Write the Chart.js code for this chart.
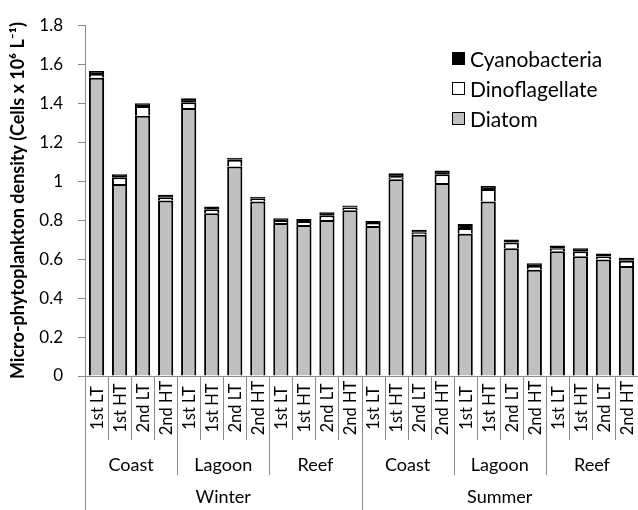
<!DOCTYPE html>
<html>
<head>
<meta charset="utf-8">
<script src="https://cdn.jsdelivr.net/npm/chart.js@4.4.0/dist/chart.umd.min.js"></script>
<style>
  html, body { margin: 0; padding: 0; background: #fff; }
  #wrap { width: 638px; height: 510px; }
</style>
</head>
<body>
<div id="wrap"><canvas id="c" width="638" height="510"></canvas></div>
<script>
// Sampling occasions, sites and seasons (x-axis hierarchy)
const tides = ['1st LT', '1st HT', '2nd LT', '2nd HT'];
const sites = ['Coast', 'Lagoon', 'Reef'];
const seasons = ['Winter', 'Summer'];

// Densities, cells x 10^6 per litre, in the order season > site > tide
const diatom = [1.53, 0.985, 1.335, 0.90, 1.375, 0.835, 1.075, 0.895, 0.785, 0.775, 0.80, 0.85,
                0.77, 1.01, 0.725, 0.99, 0.73, 0.895, 0.655, 0.545, 0.64, 0.615, 0.598, 0.565];
const dinoflagellate = [0.02, 0.035, 0.05, 0.015, 0.03, 0.02, 0.035, 0.015, 0.01, 0.02, 0.025, 0.015,
                        0.015, 0.01, 0.01, 0.045, 0.03, 0.065, 0.03, 0.02, 0.015, 0.025, 0.015, 0.027];
const cyanobacteria = [0.015, 0.015, 0.015, 0.015, 0.02, 0.015, 0.01, 0.01, 0.015, 0.01, 0.015, 0.01,
                       0.01, 0.02, 0.015, 0.02, 0.02, 0.015, 0.015, 0.013, 0.015, 0.015, 0.015, 0.015];

const yTicks = [0, 0.2, 0.4, 0.6, 0.8, 1, 1.2, 1.4, 1.6, 1.8];

const labels = [];
seasons.forEach(se => sites.forEach(si => tides.forEach(t => labels.push([t, si, se]))));

const FONT = "Lato, 'Open Sans', 'DejaVu Sans', sans-serif";
const AXIS_GREY = '#8a8a8a';

// Hierarchical category labels with divider lines under the x axis
const axisGroups = {
  id: 'axisGroups',
  afterDraw(chart) {
    const { ctx, chartArea, scales: { x } } = chart;
    const labs = chart.data.labels;
    const n = labs.length;
    const half = (x.getPixelForValue(1) - x.getPixelForValue(0)) / 2;
    const y0 = chartArea.bottom;
    const H = chart.height;
    ctx.save();
    ctx.strokeStyle = AXIS_GREY;
    ctx.lineWidth = 1;
    for (let i = 0; i <= n; i++) {
      const bx = Math.round(x.getPixelForValue(i) - half) + 0.5;
      let depth;
      if (i === 0 || i === n || labs[i][2] !== labs[i - 1][2]) depth = H - y0;
      else if (labs[i][1] !== labs[i - 1][1]) depth = 99;
      else depth = 64;
      ctx.beginPath();
      ctx.moveTo(bx, y0);
      ctx.lineTo(bx, y0 + depth);
      ctx.stroke();
    }
    ctx.fillStyle = '#000';
    // level 1: tide, rotated
    ctx.font = '16.5px ' + FONT;
    ctx.textAlign = 'center';
    ctx.textBaseline = 'middle';
    for (let i = 0; i < n; i++) {
      ctx.save();
      ctx.translate(x.getPixelForValue(i) + 1, y0 + 32);
      ctx.rotate(-Math.PI / 2);
      ctx.fillText(labs[i][0], 0, 0);
      ctx.restore();
    }
    // levels 2 and 3: site and season, centred on their spans
    ctx.font = '18px ' + FONT;
    const spans = (level) => {
      const out = [];
      let start = 0;
      for (let i = 1; i <= n; i++) {
        const changed = i === n || labs[i][level] !== labs[start][level] ||
          (level === 1 && labs[i][2] !== labs[start][2]);
        if (changed) { out.push([start, i - 1, labs[start][level]]); start = i; }
      }
      return out;
    };
    spans(1).forEach(([a, b, t]) => {
      ctx.fillText(t, (x.getPixelForValue(a) + x.getPixelForValue(b)) / 2, y0 + 89);
    });
    spans(2).forEach(([a, b, t]) => {
      ctx.fillText(t, (x.getPixelForValue(a) + x.getPixelForValue(b)) / 2, y0 + 121);
    });
    ctx.restore();
  }
};

// Legend inside the plot, top right, listed top of stack first
const insideLegend = {
  id: 'insideLegend',
  afterDraw(chart) {
    const { ctx } = chart;
    const ds = chart.data.datasets.slice().reverse();
    ctx.save();
    ctx.font = '21px ' + FONT;
    ctx.textBaseline = 'middle';
    ctx.textAlign = 'left';
    ds.forEach((d, k) => {
      const cy = 59 + k * 30;
      ctx.fillStyle = d.backgroundColor;
      ctx.fillRect(452.5, cy - 6.5, 12, 12);
      ctx.strokeStyle = '#000';
      ctx.lineWidth = 1;
      ctx.strokeRect(452.5, cy - 6.5, 12, 12);
      ctx.fillStyle = '#000';
      ctx.fillText(d.label, 470, cy + 1);
    });
    ctx.restore();
  }
};

const barCommon = {
  borderColor: '#000',
  borderWidth: 2,
  barPercentage: 0.66,
  categoryPercentage: 1.0
};

new Chart(document.getElementById('c'), {
  type: 'bar',
  data: {
    labels: labels,
    datasets: [
      Object.assign({ label: 'Diatom', data: diatom, backgroundColor: '#c0c0c0' }, barCommon),
      Object.assign({ label: 'Dinoflagellate', data: dinoflagellate, backgroundColor: '#ffffff' }, barCommon),
      Object.assign({ label: 'Cyanobacteria', data: cyanobacteria, backgroundColor: '#000000' }, barCommon)
    ]
  },
  options: {
    responsive: false,
    animation: false,
    layout: { padding: { top: 14, right: 0, bottom: 0, left: 0 } },
    plugins: {
      legend: { display: false },
      tooltip: { enabled: false }
    },
    scales: {
      x: {
        stacked: true,
        grid: { display: false },
        border: { display: true, color: AXIS_GREY, width: 1 },
        ticks: { display: false },
        afterFit(scale) { scale.height = 134; }
      },
      y: {
        stacked: true,
        min: 0,
        max: 1.8,
        afterBuildTicks(scale) { scale.ticks = yTicks.map(v => ({ value: v })); },
        ticks: {
          padding: 15,
          color: '#000',
          font: { family: FONT, size: 17 },
          callback: v => String(+(+v).toFixed(1))
        },
        grid: { drawOnChartArea: false, drawTicks: true, tickLength: 7, color: AXIS_GREY },
        border: { display: true, color: AXIS_GREY, width: 1 },
        title: {
          display: true,
          text: 'Micro-phytoplankton density (Cells x 10\u2076 L\u207B\u00B9)',
          color: '#000',
          font: { family: FONT, size: 18, weight: 'bold' },
          padding: { top: 7, bottom: 0 }
        },
        afterFit(scale) { scale.width = 85; }
      }
    }
  },
  plugins: [axisGroups, insideLegend]
});
</script>
</body>
</html>
